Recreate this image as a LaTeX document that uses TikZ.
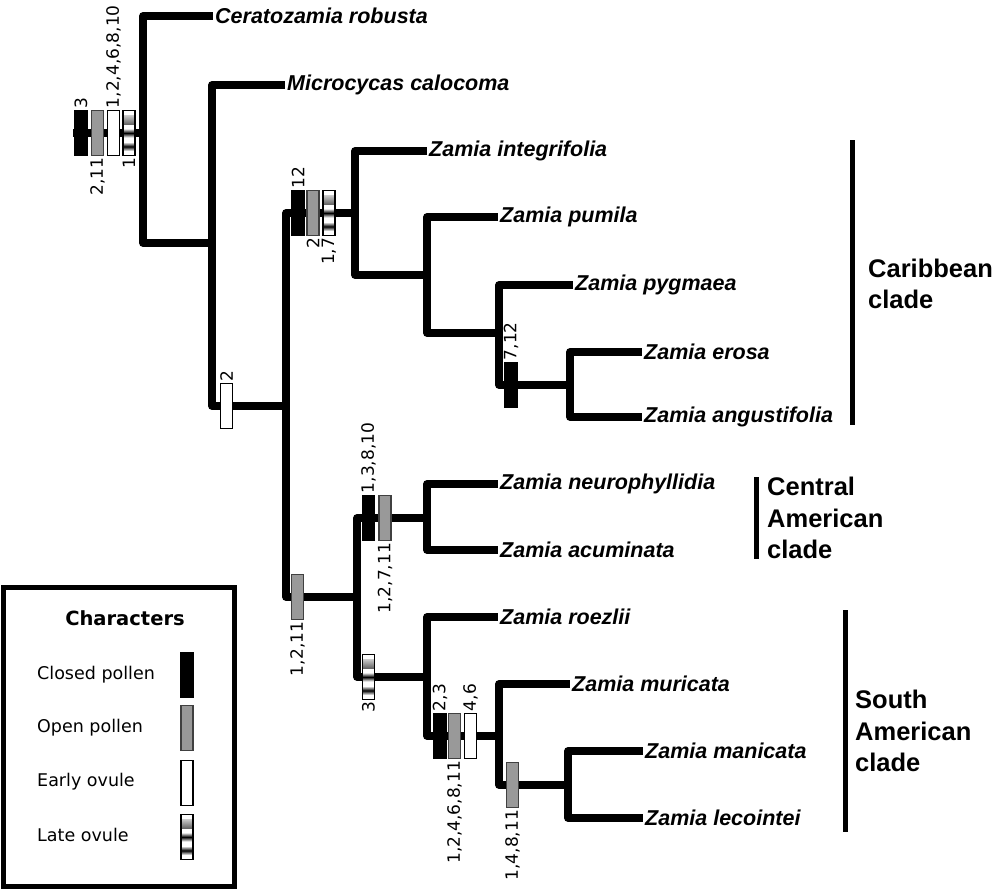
\documentclass[tikz,border=0pt]{standalone}
\usepackage{fontspec}
\usepackage{tikz}
\newfontfamily\taxfont{Liberation Sans}
\newfontfamily\numfont{DejaVu Sans}
\definecolor{opengrey}{gray}{0.6}

\begin{document}
\begin{tikzpicture}[x=1pt,y=-1pt,
    branch/.style={line width=7.5pt,line join=round},
    taxon/.style={anchor=west,inner sep=2pt,font=\taxfont\fontsize{21.5}{24}\selectfont\bfseries\itshape},
    charbox/.style={rectangle,minimum width=12pt,minimum height=45pt,inner sep=0pt,line width=1.5pt},
    closedpollen/.style={charbox,fill=black,draw=black},
    openpollen/.style={charbox,fill=opengrey,draw=black!75},
    earlyovule/.style={charbox,fill=white,draw=black},
    lateovule/.style={charbox,fill=white,draw=black,
      path picture={\foreach \k in {9.5,22.5,36}
        \shade[top color=white,bottom color=white,middle color=black]
          ([yshift=-\k pt+4.5pt]path picture bounding box.north west) rectangle
          ([yshift=-\k pt-4.5pt]path picture bounding box.north east);}},
    num/.style={rotate=90,inner sep=1.5pt,font=\numfont\fontsize{17}{17}\selectfont},
    clade/.style={anchor=west,align=left,inner sep=0pt,font=\taxfont\fontsize{25.5}{31.5}\selectfont\bfseries},
    cladebar/.style={line width=5pt},
    keytext/.style={anchor=west,inner sep=0pt,font=\numfont\fontsize{17.5}{20}\selectfont}]
  \useasboundingbox (0,0) rectangle (994,889);

  \node[taxon] (cero) at (213,16) {Ceratozamia robusta};
  \node[taxon] (micro) at (285,85) {Microcycas calocoma};
  \node[taxon] (integ) at (427,151) {Zamia integrifolia};
  \node[taxon] (pumil) at (498,217) {Zamia pumila};
  \node[taxon] (pygma) at (573,285) {Zamia pygmaea};
  \node[taxon] (erosa) at (642,352) {Zamia erosa};
  \node[taxon] (angus) at (642,417) {Zamia angustifolia};
  \node[taxon] (neuro) at (498,484) {Zamia neurophyllidia};
  \node[taxon] (acumi) at (498,550) {Zamia acuminata};
  \node[taxon] (roezl) at (498,617) {Zamia roezlii};
  \node[taxon] (muric) at (570,684) {Zamia muricata};
  \node[taxon] (manic) at (643,751) {Zamia manicata};
  \node[taxon] (lecoi) at (643,818) {Zamia lecointei};

  \coordinate (stem) at (73,133);
  \coordinate (root) at (143,133);
  \coordinate (n1) at (212,243);
  \coordinate (n2) at (286,406);
  \coordinate (carib) at (355,213);
  \coordinate (c2) at (427,275);
  \coordinate (c3) at (499,333);
  \coordinate (c4) at (570,385);
  \coordinate (cs) at (357,597);
  \coordinate (cent) at (427,518);
  \coordinate (south) at (427,677);
  \coordinate (s2) at (499,736);
  \coordinate (s3) at (568,785);

  \draw[branch] (stem) -- (root);
  \draw[branch] (root) |- (cero.west);
  \draw[branch] (root) |- (n1);
  \draw[branch] (n1) |- (micro.west);
  \draw[branch] (n1) |- (n2);
  \draw[branch] (n2) |- (carib);
  \draw[branch] (n2) |- (cs);
  \draw[branch] (carib) |- (integ.west);
  \draw[branch] (carib) |- (c2);
  \draw[branch] (c2) |- (pumil.west);
  \draw[branch] (c2) |- (c3);
  \draw[branch] (c3) |- (pygma.west);
  \draw[branch] (c3) |- (c4);
  \draw[branch] (c4) |- (erosa.west);
  \draw[branch] (c4) |- (angus.west);
  \draw[branch] (cs) |- (cent);
  \draw[branch] (cs) |- (south);
  \draw[branch] (cent) |- (neuro.west);
  \draw[branch] (cent) |- (acumi.west);
  \draw[branch] (south) |- (roezl.west);
  \draw[branch] (south) |- (s2);
  \draw[branch] (s2) |- (muric.west);
  \draw[branch] (s2) |- (s3);
  \draw[branch] (s3) |- (manic.west);
  \draw[branch] (s3) |- (lecoi.west);

  \node[closedpollen] (rootcp) at (81,133) {};
  \node[openpollen] (rootop) at (97.5,133) {};
  \node[earlyovule] (rooteo) at (113.5,133) {};
  \node[lateovule] (rootlo) at (129,133) {};
  \node[num,anchor=west] at (rootcp.north) {3};
  \node[num,anchor=west] at (rooteo.north) {1,2,4,6,8,10};
  \node[num,anchor=east] at (rootop.south) {2,11};
  \node[num,anchor=east] at (rootlo.south) {1};

  \node[earlyovule] (zameo) at (226.5,406) {};
  \node[num,anchor=west] at (zameo.north) {2};

  \node[closedpollen] (caribcp) at (298,213) {};
  \node[openpollen] (caribop) at (313,213) {};
  \node[lateovule] (cariblo) at (329,213) {};
  \node[num,anchor=west] at (caribcp.north) {12};
  \node[num,anchor=east] at (caribop.south) {2};
  \node[num,anchor=east] at (cariblo.south) {1,7};

  \node[closedpollen] (c4cp) at (511,385) {};
  \node[num,anchor=west] at (c4cp.north) {7,12};

  \node[openpollen] (csop) at (297.5,597) {};
  \node[num,anchor=east] at (csop.south) {1,2,11};

  \node[closedpollen] (centcp) at (368.5,518) {};
  \node[openpollen] (centop) at (385,518) {};
  \node[num,anchor=west] at (centcp.north) {1,3,8,10};
  \node[num,anchor=east] at (centop.south) {1,2,7,11};

  \node[lateovule] (southlo) at (368.5,677) {};
  \node[num,anchor=east] at (southlo.south) {3};

  \node[closedpollen] (s2cp) at (440,736) {};
  \node[openpollen] (s2op) at (454.5,736) {};
  \node[earlyovule] (s2eo) at (470.5,736) {};
  \node[num,anchor=west] at (s2cp.north) {2,3};
  \node[num,anchor=west] at (s2eo.north) {4,6};
  \node[num,anchor=east] at (s2op.south) {1,2,4,6,8,11};

  \node[openpollen] (s3op) at (512.5,785) {};
  \node[num,anchor=east] at (s3op.south) {1,4,8,11};

  \draw[cladebar] (852,140) -- (852,425);
  \node[clade] (caribname) at (868,284) {Caribbean\\clade};
  \draw[cladebar] (756,477) -- (756,559);
  \node[clade] (centname) at (767,518) {Central\\American\\clade};
  \draw[cladebar] (845,610) -- (845,832);
  \node[clade] (southname) at (855,731) {South\\American\\clade};

  \draw[line width=5pt] (3,587) rectangle (234,886);
  \node[font=\numfont\fontsize{19.5}{20}\selectfont\bfseries] (keytitle) at (125,618) {Characters};
  \node[keytext] (keycptext) at (37,675) {Closed pollen};
  \node[keytext] (keyoptext) at (37,728) {Open pollen};
  \node[keytext] (keyeotext) at (37,782) {Early ovule};
  \node[keytext] (keylotext) at (37,835) {Late ovule};
  \node[closedpollen] (keycp) at (187,675) {};
  \node[openpollen] (keyop) at (187,728) {};
  \node[earlyovule] (keyeo) at (187,783) {};
  \node[lateovule] (keylo) at (187,837) {};
\end{tikzpicture}
\end{document}
